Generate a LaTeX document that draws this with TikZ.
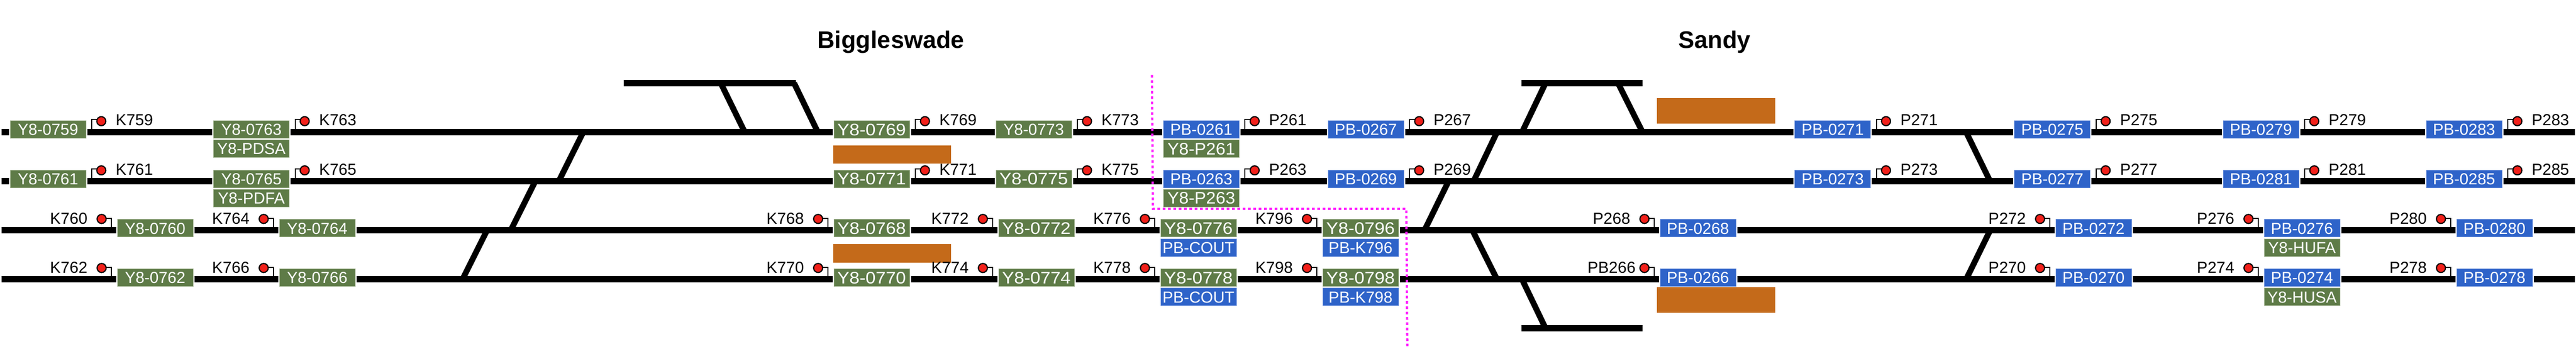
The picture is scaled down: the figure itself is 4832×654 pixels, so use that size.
\documentclass[tikz,border=0pt]{standalone}
\usepackage{fontspec}
\usepackage{graphicx}
\setmainfont{Liberation Sans}
\definecolor{boxgreen}{HTML}{5E7B47}
\definecolor{boxgreenedge}{HTML}{A3B592}
\definecolor{boxblue}{HTML}{2E63C9}
\definecolor{boxblueedge}{HTML}{6F93DC}
\definecolor{lampred}{HTML}{F2201A}
\definecolor{platform}{HTML}{C46A1A}
\definecolor{limitpink}{HTML}{FF20FF}
\tikzset{
  bx/.style={minimum width=71pt,minimum height=16.5pt,inner sep=0pt,outer sep=0pt,anchor=west,
    text=white,font=\fontsize{15pt}{15pt}\selectfont,text height=10.7pt,text depth=0pt,line width=.5pt},
  gbx/.style={bx,fill=boxgreen,draw=boxgreenedge},
  gwide/.style={gbx,font=\fontsize{15.7pt}{15.7pt}\selectfont,text height=11.2pt},
  bbx/.style={bx,fill=boxblue,draw=boxblueedge},
  track/.style={line width=6.1pt,black,shorten <=1.25pt,shorten >=1.25pt},
  siding/.style={line width=6.1pt,black},
  xover/.style={line width=5.5pt,black},
  post/.style={line width=1pt,black},
  lamp/.style={circle,draw=black,fill=lampred,line width=1pt,minimum size=8.4pt,inner sep=0pt,outer sep=0pt},
  siglabel/.style={inner sep=0pt,outer sep=0pt,font=\fontsize{15pt}{15pt}\selectfont,text height=10.7pt,text depth=0pt},
  title/.style={inner sep=0pt,outer sep=0pt,font=\fontsize{22.5pt}{22.5pt}\selectfont\bfseries,anchor=base},
  platformbox/.style={fill=platform,draw=none},
  limitline/.style={limitpink,line width=2.1pt,dash pattern=on 2.5pt off 2.5pt}
}
\newcommand{\gb}[4]{\node[gbx] (#1) at (#2,#3) {#4};}
% green box whose text is set wider: name, x, y, text
\newcommand{\gw}[4]{\node[gwide] (#1) at (#2,#3) {\scalebox{1.085}[1]{#4}};}
\newcommand{\gp}[4]{\node[gwide] (#1) at (#2,#3) {\scalebox{1.04}[1]{#4}};}
\newcommand{\bb}[4]{\node[bbx] (#1) at (#2,#3) {#4};}
% signal beyond the right side of a box: box, row, label
\newcommand{\sigR}[3]{%
  \coordinate (foot#3) at ([xshift=5.5pt]#1.east |- #2);
  \node[lamp] (lamp#3) at ([xshift=14.5pt,yshift=10.3pt]#1.east |- #2) {};
  \draw[post] (foot#3) |- ([yshift=1.5pt]lamp#3.center);
  \node[lamp] at (lamp#3) {};
  \node[siglabel,anchor=west] (lab#3) at ([xshift=28pt,yshift=11.5pt]#1.east |- #2) {#3};}
% signal before the left side of a box: box, row, label, label gap
\newcommand{\sigL}[4][28pt]{%
  \coordinate (foot#4) at ([xshift=-5.7pt]#2.west |- #3);
  \node[lamp] (lamp#4) at ([xshift=-14.7pt,yshift=10.7pt]#2.west |- #3) {};
  \draw[post] (foot#4) |- ([yshift=11.1pt]foot#4 -| lamp#4.center);
  \node[lamp] at (lamp#4) {};
  \node[siglabel,anchor=east] (lab#4) at ([xshift=-#1,yshift=11.5pt]#2.west |- #3) {#4};}
\newcommand{\seg}[3]{\draw[track] (#1.east |- #3) -- (#2.west |- #3);}
\newcommand{\crossing}[5]{%
  \coordinate (#1a) at (#2,#3); \coordinate (#1b) at (#4,#5);
  \draw[xover] (#1a) -- (#1b);}
\begin{document}
\begin{tikzpicture}[x=.5pt,y=-.5pt]
\useasboundingbox (0,0) rectangle (4832,654);
% row references
\coordinate (ra) at (0,248);    \coordinate (ea) at (4832,248);
\coordinate (rb) at (0,340.3);  \coordinate (eb) at (4832,340.3);
\coordinate (rc) at (0,432.3);  \coordinate (ec) at (4832,432.3);
\coordinate (rd) at (0,524.3);  \coordinate (ed) at (4832,524.3);
% titles
\node[title] (tbig) at (1671,90) {Biggleswade};
\node[title] (tsan) at (3216,90) {Sandy};
% platforms
\fill[platformbox] (1563,273) rectangle (1784.4,307.4);
\fill[platformbox] (1563,458.3) rectangle (1784.4,492.6);
\fill[platformbox] (3107.8,183.7) rectangle (3329.7,231.8);
\fill[platformbox] (3107.8,539) rectangle (3329.7,587);
% boxes row 1
\gb{a0759}{19}{243}{Y8-0759}
\gb{a0763}{400.5}{243}{Y8-0763}
\gw{a0769}{1564}{243}{Y8-0769}
\gb{a0773}{1868}{243}{Y8-0773}
\bb{a0261}{2182.4}{243}{PB-0261}
\bb{a0267}{2491}{243}{PB-0267}
\bb{a0271}{3366.7}{243}{PB-0271}
\bb{a0275}{3778.7}{243}{PB-0275}
\bb{a0279}{4170}{243}{PB-0279}
\bb{a0283}{4551}{243}{PB-0283}
\gb{apdsa}{400.5}{279}{Y8-PDSA}
\gp{ap261}{2182.4}{279}{Y8-P261}
% boxes row 2
\gb{b0761}{19}{335.5}{Y8-0761}
\gb{b0765}{400.5}{335.5}{Y8-0765}
\gw{b0771}{1564}{335.5}{Y8-0771}
\gw{b0775}{1868}{335.5}{Y8-0775}
\bb{b0263}{2182.4}{335.5}{PB-0263}
\bb{b0269}{2491}{335.5}{PB-0269}
\bb{b0273}{3366.7}{335.5}{PB-0273}
\bb{b0277}{3778.7}{335.5}{PB-0277}
\bb{b0281}{4170}{335.5}{PB-0281}
\bb{b0285}{4551}{335.5}{PB-0285}
\gb{bpdfa}{400.5}{371.5}{Y8-PDFA}
\gp{bp263}{2182.4}{371.5}{Y8-P263}
% boxes row 3
\gb{c0760}{220}{428.3}{Y8-0760}
\gb{c0764}{524}{428.3}{Y8-0764}
\gw{c0768}{1564}{428.3}{Y8-0768}
\gw{c0772}{1873}{428.3}{Y8-0772}
\gw{c0776}{2177}{428.3}{Y8-0776}
\gw{c0796}{2481}{428.3}{Y8-0796}
\bb{c0268}{3114}{428.3}{PB-0268}
\bb{c0272}{3856}{428.3}{PB-0272}
\bb{c0276}{4247}{428.3}{PB-0276}
\bb{c0280}{4608}{428.3}{PB-0280}
\bb{ccout}{2177}{464.5}{PB-COUT}
\bb{ck796}{2481}{464.5}{PB-K796}
\gb{chufa}{4247}{464.5}{Y8-HUFA}
% boxes row 4
\gb{d0762}{220}{521}{Y8-0762}
\gb{d0766}{524}{521}{Y8-0766}
\gw{d0770}{1564}{521}{Y8-0770}
\gw{d0774}{1873}{521}{Y8-0774}
\gw{d0778}{2177}{521}{Y8-0778}
\gw{d0798}{2481}{521}{Y8-0798}
\bb{d0266}{3114}{521}{PB-0266}
\bb{d0270}{3856}{521}{PB-0270}
\bb{d0274}{4247}{521}{PB-0274}
\bb{d0278}{4608}{521}{PB-0278}
\bb{dcout}{2177}{557.3}{PB-COUT}
\bb{dk798}{2481}{557.3}{PB-K798}
\gb{dhusa}{4247}{557.3}{Y8-HUSA}
% tracks row 1
\draw[track] (ra) -- (a0759.west |- ra);
\seg{a0759}{a0763}{ra}\seg{a0763}{a0769}{ra}\seg{a0769}{a0773}{ra}\seg{a0773}{a0261}{ra}
\seg{a0261}{a0267}{ra}\seg{a0267}{a0271}{ra}\seg{a0271}{a0275}{ra}\seg{a0275}{a0279}{ra}\seg{a0279}{a0283}{ra}
\draw[track] (a0283.east |- ra) -- (ea);
% tracks row 2
\draw[track] (rb) -- (b0761.west |- rb);
\seg{b0761}{b0765}{rb}\seg{b0765}{b0771}{rb}\seg{b0771}{b0775}{rb}\seg{b0775}{b0263}{rb}
\seg{b0263}{b0269}{rb}\seg{b0269}{b0273}{rb}\seg{b0273}{b0277}{rb}\seg{b0277}{b0281}{rb}\seg{b0281}{b0285}{rb}
\draw[track] (b0285.east |- rb) -- (eb);
% tracks row 3
\draw[track] (rc) -- (c0760.west |- rc);
\seg{c0760}{c0764}{rc}\seg{c0764}{c0768}{rc}\seg{c0768}{c0772}{rc}\seg{c0772}{c0776}{rc}
\seg{c0776}{c0796}{rc}\seg{c0796}{c0268}{rc}\seg{c0268}{c0272}{rc}\seg{c0272}{c0276}{rc}\seg{c0276}{c0280}{rc}
\draw[track] (c0280.east |- rc) -- (ec);
% tracks row 4
\draw[track] (rd) -- (d0762.west |- rd);
\seg{d0762}{d0766}{rd}\seg{d0766}{d0770}{rd}\seg{d0770}{d0774}{rd}\seg{d0774}{d0778}{rd}
\seg{d0778}{d0798}{rd}\seg{d0798}{d0266}{rd}\seg{d0266}{d0270}{rd}\seg{d0270}{d0274}{rd}\seg{d0274}{d0278}{rd}
\draw[track] (d0278.east |- rd) -- (ed);
% sidings
\coordinate (sa1) at (1169.6,156); \coordinate (sa2) at (1492.7,156);
\draw[siding] (sa1) -- (sa2);
\coordinate (sb1) at (2854,156); \coordinate (sb2) at (3081,156);
\draw[siding] (sb1) -- (sb2);
\coordinate (sc1) at (2854,616); \coordinate (sc2) at (3081,616);
\draw[siding] (sc1) -- (sc2);
% crossovers
\crossing{x1}{867.5}{524.3}{913.5}{432.3}
\crossing{x2}{958}{432.3}{1004}{340.3}
\crossing{x3}{1048}{340.3}{1094}{248}
\crossing{x4}{1352}{156}{1397}{248}
\crossing{x5}{1489.5}{156}{1534}{248}
\crossing{x6}{2672}{432.3}{2717}{340.3}
\crossing{x7}{2764}{340.3}{2808}{248}
\crossing{x8}{2855}{248}{2899}{156}
\crossing{x9}{2762}{432.3}{2808}{524.3}
\crossing{x10}{2855}{524.3}{2899}{616}
\crossing{x11}{3035}{156}{3081}{248}
\crossing{x12}{3688}{248}{3733}{340.3}
\crossing{x13}{3733}{432.3}{3688}{524.3}
% signals
\sigR{a0759}{ra}{K759}\sigR{a0763}{ra}{K763}\sigR{a0769}{ra}{K769}\sigR{a0773}{ra}{K773}
\sigR{a0261}{ra}{P261}\sigR{a0267}{ra}{P267}\sigR{a0271}{ra}{P271}\sigR{a0275}{ra}{P275}
\sigR{a0279}{ra}{P279}\sigR{a0283}{ra}{P283}
\sigR{b0761}{rb}{K761}\sigR{b0765}{rb}{K765}\sigR{b0771}{rb}{K771}\sigR{b0775}{rb}{K775}
\sigR{b0263}{rb}{P263}\sigR{b0269}{rb}{P269}\sigR{b0273}{rb}{P273}\sigR{b0277}{rb}{P277}
\sigR{b0281}{rb}{P281}\sigR{b0285}{rb}{P285}
\sigL{c0760}{rc}{K760}\sigL{c0764}{rc}{K764}\sigL{c0768}{rc}{K768}\sigL{c0772}{rc}{K772}
\sigL{c0776}{rc}{K776}\sigL{c0796}{rc}{K796}\sigL{c0268}{rc}{P268}\sigL{c0272}{rc}{P272}
\sigL{c0276}{rc}{P276}\sigL{c0280}{rc}{P280}
\sigL{d0762}{rd}{K762}\sigL{d0766}{rd}{K766}\sigL{d0770}{rd}{K770}\sigL{d0774}{rd}{K774}
\sigL{d0778}{rd}{K778}\sigL{d0798}{rd}{K798}\sigL[23pt]{d0266}{rd}{PB266}\sigL{d0270}{rd}{P270}
\sigL{d0274}{rd}{P274}\sigL{d0278}{rd}{P278}
% operating boundary
\coordinate (la) at (2160.7,140.6); \coordinate (lb) at (2162.6,392);
\coordinate (lc) at (2638,392); \coordinate (ld) at (2639.7,649.5);
\draw[limitline] (la) -- (lb) -- (lc) -- (ld);
\end{tikzpicture}
\end{document}
